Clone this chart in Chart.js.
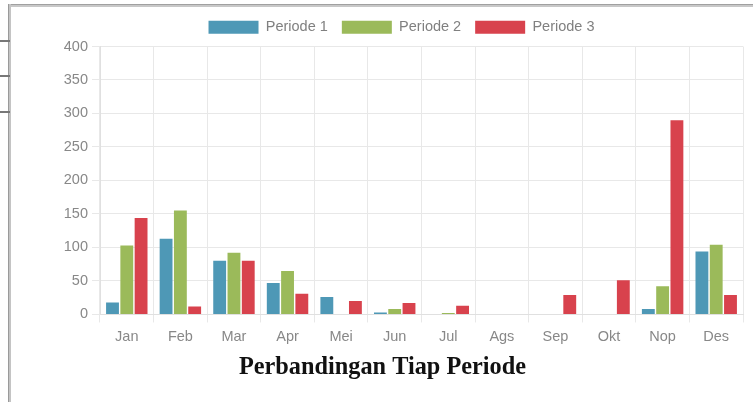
<!DOCTYPE html>
<html>
<head>
<meta charset="utf-8">
<script src="https://cdn.jsdelivr.net/npm/chart.js@4/dist/chart.umd.min.js"></script>
<style>
  html, body { margin: 0; padding: 0; background: #fff; width: 753px; height: 402px; overflow: hidden; }
  .vline { position: absolute; left: 8px; top: 4px; width: 3px; height: 398px; background: #c4c4c4; border-left: 1px solid #9a9a9a; box-sizing: border-box; }
  .hline { position: absolute; left: 10px; top: 4px; width: 743px; height: 3px; background: #c8c8c8; border-top: 1px solid #a0a0a0; box-sizing: border-box; }
  .tick { position: absolute; left: 0; width: 10px; height: 2px; background: #777; }
  #wrap { position: absolute; left: 12px; top: 8px; width: 741px; height: 382px; }
</style>
</head>
<body>
<div class="hline"></div>
<div class="vline"></div>
<div class="tick" style="top:40px"></div>
<div class="tick" style="top:75px"></div>
<div class="tick" style="top:111px"></div>
<div id="wrap"><canvas id="c"></canvas></div>
<script>
const categories = ["Jan", "Feb", "Mar", "Apr", "Mei", "Jun", "Jul", "Ags", "Sep", "Okt", "Nop", "Des"];
const periode1 = [18, 113, 80, 47, 26, 3, 0, 0, 0, 0, 8, 94];
const periode2 = [103, 155, 92, 65, 0, 8, 2, 0, 0, 0, 42, 104];
const periode3 = [144, 12, 80, 31, 20, 17, 13, 0, 29, 51, 290, 29];
const seriesLabels = ["Periode 1", "Periode 2", "Periode 3"];
const yTicks = [0, 50, 100, 150, 200, 250, 300, 350, 400];
const chartTitle = "Perbandingan Tiap Periode";

const colors = ["#4e98b6", "#9bba5a", "#d8424d"];
const sans = "'Liberation Sans', Arial, sans-serif";

const shiftLegend = {
  id: "shiftLegend",
  afterLayout(chart) {
    const l = chart.legend;
    if (l) { l.left += 19; l.right += 19; l.top -= 2; l.bottom -= 2; }
  }
};

new Chart(document.getElementById("c"), {
  type: "bar",
  data: {
    labels: categories,
    datasets: [periode1, periode2, periode3].map((d, i) => ({
      label: seriesLabels[i],
      data: d,
      backgroundColor: colors[i],
      borderWidth: 0
    }))
  },
  plugins: [shiftLegend],
  options: {
    responsive: true,
    maintainAspectRatio: false,
    animation: false,
    layout: { padding: { left: 10, right: 10, top: 0, bottom: 0 } },
    plugins: {
      legend: {
        position: "top",
        labels: {
          boxWidth: 50,
          boxHeight: 13,
          padding: 14,
          color: "#808080",
          font: { family: sans, size: 14.5 }
        }
      },
      title: {
        display: true,
        position: "bottom",
        text: chartTitle,
        color: "#111",
        padding: { top: 1, bottom: 8 },
        font: { family: "'Liberation Serif', 'Times New Roman', serif", size: 24.3, weight: "bold" }
      },
      tooltip: { enabled: false }
    },
    scales: {
      x: {
        grid: { color: "#e8e8e8", offset: true },
        border: { color: "#e0e0e0" },
        ticks: { color: "#888", font: { family: sans, size: 14.5 }, padding: 6 }
      },
      y: {
        min: 0,
        max: 400,
        afterFit: (axis) => { axis.width = 78; },
        afterBuildTicks: (axis) => { axis.ticks = yTicks.map(v => ({ value: v })); },
        grid: { color: "#e8e8e8" },
        border: { color: "#e0e0e0" },
        ticks: { color: "#888", font: { family: sans, size: 14.5 }, padding: 4 }
      }
    }
  }
});
</script>
</body>
</html>
